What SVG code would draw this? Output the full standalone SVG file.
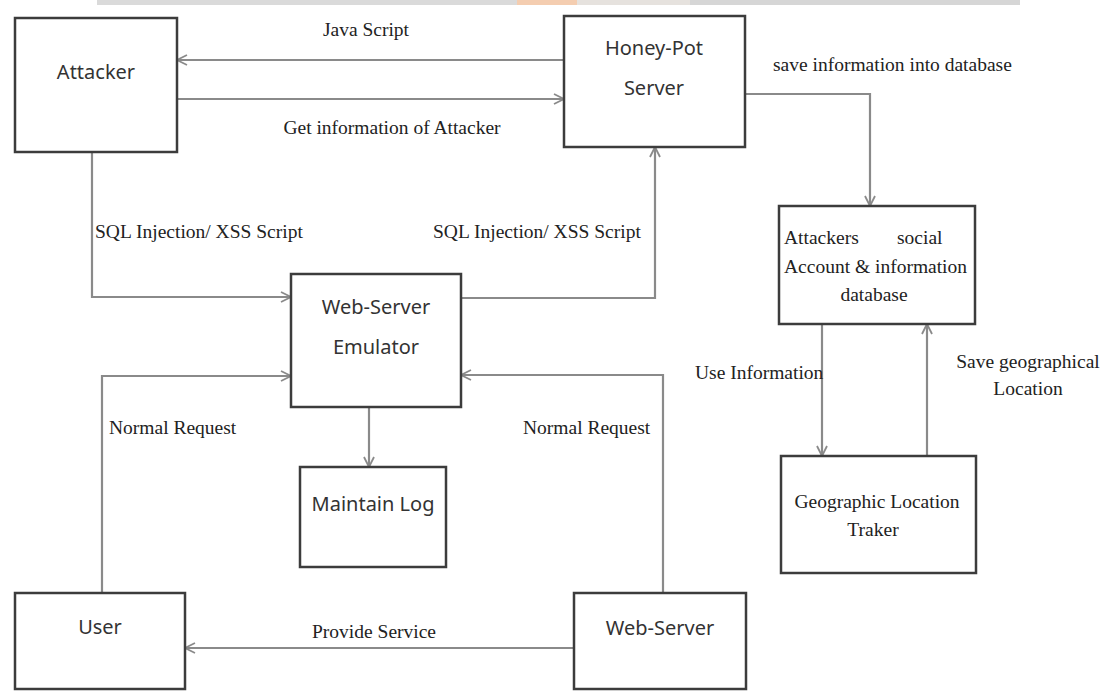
<svg xmlns="http://www.w3.org/2000/svg" width="1105" height="691" viewBox="0 0 1105 691">
<defs>
<style>
.box{fill:#fff;stroke:#3c3c3c;stroke-width:2.5}
.lbl{font-family:"Noto Sans","Open Sans",sans-serif;font-size:20px;fill:#333;text-anchor:middle}
.ser{font-family:"Liberation Serif","Times New Roman",serif;font-size:19.5px;fill:#222}
.mid{text-anchor:middle}
.con{fill:none;stroke:#8a8a8a;stroke-width:2.2}
</style>
<marker id="arr" viewBox="0 0 12 12" refX="11" refY="6" markerWidth="12" markerHeight="12" markerUnits="userSpaceOnUse" orient="auto">
<path d="M1,1 L11,6 L1,11" fill="none" stroke="#8a8a8a" stroke-width="1.8"/>
</marker>
</defs>
<rect width="1105" height="691" fill="#fff"/>
<g id="topband">
<rect x="97" y="0" width="420" height="5" fill="#dadada"/>
<rect x="517" y="0" width="60" height="5" fill="#f4cdb0"/>
<rect x="577" y="0" width="113" height="5" fill="#e6e2de"/>
<rect x="690" y="0" width="330" height="5" fill="#d6d6d6"/>
</g>
<g id="connectors">
<path class="con" d="M564 60 H177" marker-end="url(#arr)"/>
<path class="con" d="M177 99 H564" marker-end="url(#arr)"/>
<path class="con" d="M745 94 H870 V206" marker-end="url(#arr)"/>
<path class="con" d="M92 152 V297 H291" marker-end="url(#arr)"/>
<path class="con" d="M461 298 H655 V147" marker-end="url(#arr)"/>
<path class="con" d="M102 593 V376 H291" marker-end="url(#arr)"/>
<path class="con" d="M663 593 V375 H461" marker-end="url(#arr)"/>
<path class="con" d="M369 407 V467" marker-end="url(#arr)"/>
<path class="con" d="M822 324 V456" marker-end="url(#arr)"/>
<path class="con" d="M927 456 V324" marker-end="url(#arr)"/>
<path class="con" d="M574 648 H185" marker-end="url(#arr)"/>
<text class="ser mid" x="366" y="36">Java Script</text>
<text class="ser mid" x="392" y="134">Get information of Attacker</text>
<text class="ser" x="773" y="71">save information into database</text>
<text class="ser" x="95" y="238">SQL Injection/ XSS Script</text>
<text class="ser" x="433" y="238">SQL  Injection/ XSS Script</text>
<text class="ser" x="109" y="434">Normal Request</text>
<text class="ser" x="523" y="434">Normal Request</text>
<text class="ser" x="695" y="379">Use Information</text>
<text class="ser mid" x="1028" y="368">Save geographical</text>
<text class="ser mid" x="1028" y="395">Location</text>
<text class="ser" x="312" y="638">Provide Service</text>
</g>
<g id="attacker">
<rect class="box" x="15" y="18" width="162" height="134"/>
<text class="lbl" x="96" y="79">Attacker</text>
</g>
<g id="honeypot">
<rect class="box" x="564" y="16" width="181" height="131"/>
<text class="lbl" x="654" y="55">Honey-Pot</text>
<text class="lbl" x="654" y="95">Server</text>
</g>
<g id="database">
<rect class="box" x="779" y="206" width="196" height="118"/>
<text class="ser" y="244"><tspan x="784">Attackers</tspan><tspan x="897">social</tspan></text>
<text class="ser" x="784" y="273">Account &amp; information</text>
<text class="ser mid" x="874" y="301">database</text>
</g>
<g id="tracker">
<rect class="box" x="781" y="456" width="195" height="117"/>
<text class="ser mid" x="877" y="508">Geographic Location</text>
<text class="ser mid" x="873" y="536">Traker</text>
</g>
<g id="emulator">
<rect class="box" x="291" y="274" width="170" height="133"/>
<text class="lbl" x="376" y="314">Web-Server</text>
<text class="lbl" x="376" y="354">Emulator</text>
</g>
<g id="log">
<rect class="box" x="300" y="467" width="146" height="100"/>
<text class="lbl" x="373" y="511">Maintain Log</text>
</g>
<g id="user">
<rect class="box" x="15" y="593" width="170" height="96"/>
<text class="lbl" x="100" y="634">User</text>
</g>
<g id="webserver">
<rect class="box" x="574" y="593" width="172" height="96"/>
<text class="lbl" x="660" y="635">Web-Server</text>
</g>
</svg>
